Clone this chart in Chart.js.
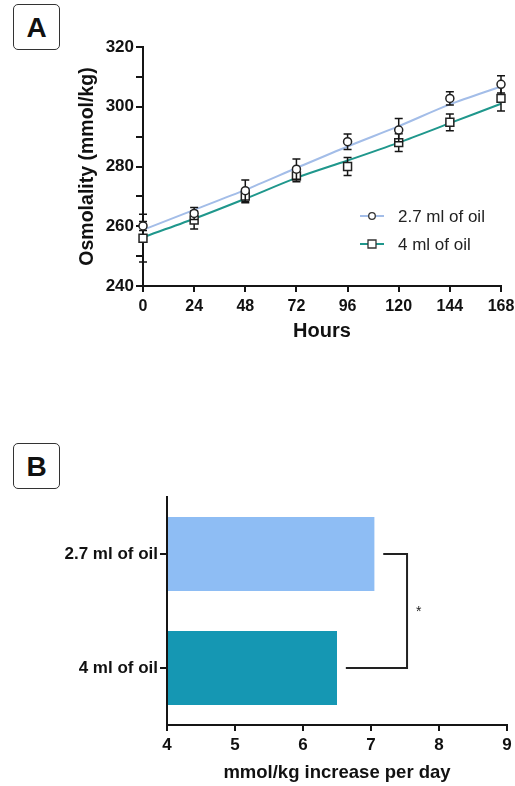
<!DOCTYPE html>
<html><head><meta charset="utf-8">
<script src="https://cdn.jsdelivr.net/npm/chart.js@4/dist/chart.umd.min.js"></script>
<style>
html,body{margin:0;padding:0;background:#fff;width:515px;height:786px;overflow:hidden;}
.wrap{position:absolute;left:0;}
#wrapA{top:0;width:515px;height:345px;}
#wrapB{top:400px;width:515px;height:386px;}
.tag{position:absolute;left:13px;width:45px;height:44px;border:1.5px solid #333;border-radius:5px;font:bold 28px "Liberation Sans",Arial,sans-serif;text-align:center;line-height:45px;color:#111;background:#fff;}
</style></head><body>
<div class="wrap" id="wrapA"><canvas id="cA" width="515" height="345"></canvas></div>
<div class="wrap" id="wrapB"><canvas id="cB" width="515" height="386"></canvas></div>
<div class="tag" style="top:4px;">A</div>
<div class="tag" style="top:443px;">B</div>
<script>
// ---------- Panel A data ----------
const hours = [0, 24, 48, 72, 96, 120, 144, 168];
const oil27Mean = [260.1, 264.3, 271.9, 279.1, 288.3, 292.2, 302.8, 307.5];
const oil27Err  = [1.5, 2.0, 3.6, 3.4, 2.6, 3.9, 2.2, 2.9];
const oil4Mean  = [256.0, 262.1, 270.1, 276.8, 280.0, 288.0, 294.8, 302.8];
const oil4Err   = [8.0, 3.0, 2.2, 1.9, 3.0, 3.0, 2.8, 4.2];
const oil27Fit  = [258.8, 265.5, 272.2, 279.5, 286.7, 293.5, 300.8, 306.8];
const oil4Fit   = [256.3, 262.5, 269.2, 276.2, 282.0, 288.0, 294.5, 301.0];
const seriesNames = ['2.7 ml of oil', '4 ml of oil'];

// ---------- Panel B data ----------
const groups = ['2.7 ml of oil', '4 ml of oil'];
const ratePerDay = [7.05, 6.5];
const sigMark = '*';

const FONT = '"Liberation Sans", Arial, Helvetica, sans-serif';
Chart.defaults.font.family = FONT;
Chart.defaults.color = '#111';
Chart.defaults.animation = false;

const C27 = '#a3bde8', C4 = '#1f978c', AX = '#151515';

function pts(xs, ys) { return xs.map((x, i) => ({x: x, y: ys[i]})); }

const errorBars = {
  id: 'errorBars',
  beforeDatasetDraw(chart, args) {
    const ds = chart.data.datasets[args.index];
    if (!ds.errors) return;
    const ctx = chart.ctx, ys = chart.scales.y;
    ctx.save();
    ctx.strokeStyle = AX; ctx.lineWidth = 1.5;
    args.meta.data.forEach((el, i) => {
      const v = ds.data[i].y, e = ds.errors[i];
      const t = ys.getPixelForValue(v + e), b = ys.getPixelForValue(v - e);
      ctx.beginPath();
      ctx.moveTo(el.x, t); ctx.lineTo(el.x, b);
      ctx.moveTo(el.x - 4, t); ctx.lineTo(el.x + 4, t);
      ctx.moveTo(el.x - 4, b); ctx.lineTo(el.x + 4, b);
      ctx.stroke();
    });
    ctx.restore();
  }
};

const innerLegend = {
  id: 'innerLegend',
  afterDraw(chart) {
    const ctx = chart.ctx;
    const rows = [{y: 216, c: C27, s: 'circle'}, {y: 244, c: C4, s: 'rect'}];
    ctx.save();
    rows.forEach((r, i) => {
      ctx.strokeStyle = r.c; ctx.lineWidth = 2;
      ctx.beginPath(); ctx.moveTo(360, r.y); ctx.lineTo(384, r.y); ctx.stroke();
      ctx.fillStyle = '#fff'; ctx.strokeStyle = '#333'; ctx.lineWidth = 1.3;
      ctx.beginPath();
      if (r.s === 'circle') ctx.arc(372, r.y, 3.3, 0, Math.PI * 2);
      else ctx.rect(368, r.y - 4, 8, 8);
      ctx.fill(); ctx.stroke();
      ctx.fillStyle = '#222';
      ctx.font = '17px ' + FONT;
      ctx.textBaseline = 'middle'; ctx.textAlign = 'left';
      ctx.fillText(seriesNames[i], 398, r.y + 1);
    });
    ctx.restore();
  }
};

const axisGrid = (len) => ({display: true, drawOnChartArea: false, drawTicks: true, tickLength: len, color: AX, lineWidth: 2});

new Chart(document.getElementById('cA'), {
  data: {
    datasets: [
      {type: 'line', data: pts(hours, oil27Fit), borderColor: C27, borderWidth: 2, pointRadius: 0, tension: 0.3, order: 3, clip: false},
      {type: 'line', data: pts(hours, oil4Fit), borderColor: C4, borderWidth: 2, pointRadius: 0, tension: 0.3, order: 2, clip: false},
      {type: 'scatter', data: pts(hours, oil4Mean), errors: oil4Err, pointStyle: 'rect', pointRadius: 5.6, borderColor: '#222', borderWidth: 1.5, backgroundColor: '#fff', order: 1, clip: false},
      {type: 'scatter', data: pts(hours, oil27Mean), errors: oil27Err, pointStyle: 'circle', pointRadius: 4, borderColor: '#222', borderWidth: 1.5, backgroundColor: '#fff', order: 0, clip: false}
    ]
  },
  options: {
    responsive: false,
    layout: {padding: {top: 47, right: 14, left: 0, bottom: 0}},
    plugins: {legend: {display: false}, tooltip: {enabled: false}},
    scales: {
      x: {
        type: 'linear', min: 0, max: 168,
        ticks: {stepSize: 24, autoSkip: false, maxRotation: 0, padding: 5, color: '#111', font: {size: 16, weight: 'bold'}},
        grid: axisGrid(6),
        border: {display: true, color: AX, width: 2},
        title: {display: true, text: 'Hours', color: '#111', font: {size: 20, weight: 'bold'}, padding: {top: 0, bottom: 2}},
        afterFit(s) { s.height = 59; s.paddingLeft = 0; s.paddingRight = 0; }
      },
      y: {
        type: 'linear', min: 240, max: 320,
        ticks: {stepSize: 10, autoSkip: false, padding: 2, color: '#111', font: {size: 17, weight: 'bold'},
                callback: v => (v % 20 === 0 ? String(v) : '')},
        grid: axisGrid(7),
        border: {display: true, color: AX, width: 2},
        title: {display: true, text: 'Osmolality (mmol/kg)', color: '#111', font: {size: 19.5, weight: 'bold'}, padding: {top: 76, bottom: 0}},
        afterFit(s) { s.width = 143; s.paddingTop = 0; s.paddingBottom = 0; }
      }
    }
  },
  plugins: [errorBars, innerLegend]
});

const bracket = {
  id: 'bracket',
  afterDatasetsDraw(chart, args, opts) {
    const ctx = chart.ctx, xs = chart.scales.x, ys = chart.scales.y;
    const y1 = ys.getPixelForValue(0), y2 = ys.getPixelForValue(1);
    const xa = xs.getPixelForValue(ratePerDay[0] + opts.gap);
    const xb = xs.getPixelForValue(ratePerDay[1] + opts.gap);
    const xv = xs.getPixelForValue(opts.at);
    ctx.save();
    ctx.strokeStyle = '#222'; ctx.lineWidth = 2;
    ctx.beginPath();
    ctx.moveTo(xa, y1); ctx.lineTo(xv, y1); ctx.lineTo(xv, y2); ctx.lineTo(xb, y2);
    ctx.stroke();
    ctx.fillStyle = '#222'; ctx.font = '14px ' + FONT;
    ctx.textAlign = 'center'; ctx.textBaseline = 'middle';
    ctx.fillText(sigMark, xs.getPixelForValue(opts.labelAt), (y1 + y2) / 2 + 1);
    ctx.restore();
  }
};

new Chart(document.getElementById('cB'), {
  type: 'bar',
  data: {
    labels: groups,
    datasets: [{data: ratePerDay, base: 4, backgroundColor: ['#8ebdf4', '#1597b3'], barPercentage: 0.65, categoryPercentage: 1}]
  },
  options: {
    responsive: false,
    indexAxis: 'y',
    layout: {padding: {top: 97, right: 8, left: 0, bottom: 0}},
    plugins: {legend: {display: false}, tooltip: {enabled: false}, bracket: {gap: 0.13, at: 7.53, labelAt: 7.7}},
    scales: {
      x: {
        type: 'linear', min: 4, max: 9,
        ticks: {stepSize: 1, autoSkip: false, maxRotation: 0, padding: 4, color: '#111', font: {size: 17, weight: 'bold'}},
        grid: axisGrid(6),
        border: {display: true, color: AX, width: 2},
        title: {display: true, text: 'mmol/kg increase per day', color: '#111', font: {size: 18.5, weight: 'bold'}, padding: {top: 0, bottom: 2}},
        afterFit(s) { s.height = 61; s.paddingLeft = 0; s.paddingRight = 0; }
      },
      y: {
        type: 'category',
        ticks: {padding: 2, color: '#111', font: {size: 17, weight: 'bold'}},
        grid: Object.assign(axisGrid(7), {offset: false}),
        border: {display: true, color: AX, width: 2},
        afterFit(s) { s.width = 167; s.paddingTop = 0; s.paddingBottom = 0; }
      }
    }
  },
  plugins: [bracket]
});
</script>
</body></html>
